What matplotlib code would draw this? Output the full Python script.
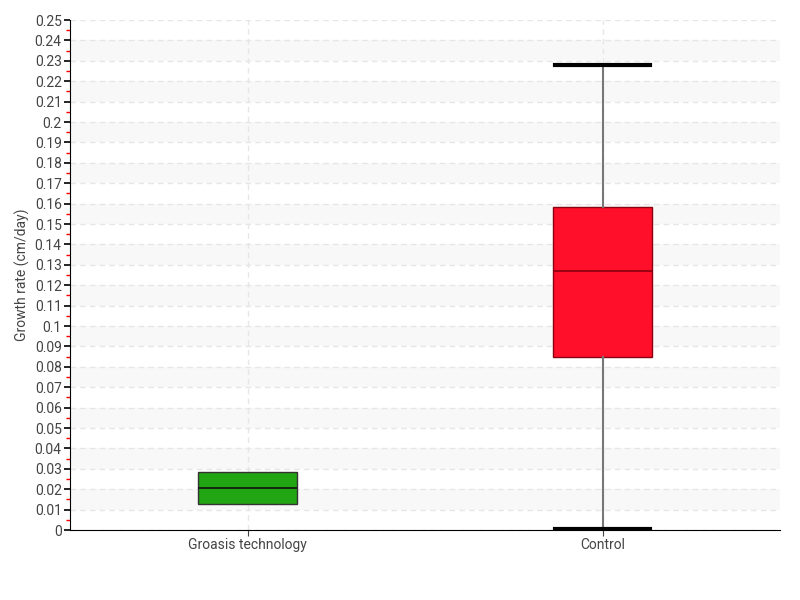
import numpy as np
import matplotlib.pyplot as plt
from matplotlib.ticker import MultipleLocator

# box statistics
groups = ["Groasis technology", "Control"]
q1 = [0.0127, 0.0848]
med = [0.0206, 0.127]
q3 = [0.0284, 0.1583]
whislo = [0.0127, 0.0005]
whishi = [0.0284, 0.228]
colors = ["#22a512", "#ff0f2a"]

plt.rcParams['font.family'] = ['Roboto', 'DejaVu Sans']

fig = plt.figure(figsize=(8, 6), dpi=100)
ax = fig.add_axes([70/800, 70/600, 710/800, 510/600])

# alternating bands
for k in range(1, 25, 2):
    ax.axhspan(k * 0.01, (k + 1) * 0.01, color="#f8f8f8", zorder=0, lw=0)

stats = []
for i in range(len(groups)):
    stats.append(dict(q1=q1[i], med=med[i], q3=q3[i], whislo=whislo[i],
                      whishi=whishi[i], fliers=[], label=groups[i]))

bp = ax.bxp(stats, positions=[0, 1], widths=0.28, capwidths=0.27,
            patch_artist=True, showfliers=False, zorder=3)
for i, box in enumerate(bp["boxes"]):
    box.set_facecolor(colors[i])
    box.set_edgecolor("#333333" if i == 0 else "#8a0010")
    box.set_linewidth(1)
for i, m in enumerate(bp["medians"]):
    m.set_color("#111111" if i == 0 else "#8a0010")
    m.set_linewidth(1.2)
for w in bp["whiskers"]:
    w.set_color("#777777")
    w.set_linewidth(1.5)
for c in bp["caps"]:
    c.set_color("black")
    c.set_linewidth(3)
# no whisker caps for the first group
for c in bp["caps"][:2]:
    c.set_visible(False)

ax.set_xlim(-0.5, 1.5)
ax.set_ylim(0, 0.25)
ax.yaxis.set_major_locator(MultipleLocator(0.01))
ax.yaxis.set_minor_locator(MultipleLocator(0.005))
ax.set_yticklabels([("%g" % round(v, 2)) for v in ax.get_yticks()])
ax.set_xticks([0, 1])
ax.set_xticklabels(groups)

ax.grid(True, axis="y", which="major", ls=(0, (4, 3)), color="#e6e6e6", lw=1, zorder=1)
ax.grid(True, axis="x", which="major", ls=(0, (4, 3)), color="#e6e6e6", lw=1, zorder=1)

for s in ["top", "right"]:
    ax.spines[s].set_visible(False)
ax.spines["left"].set_color("black")
ax.spines["bottom"].set_color("black")

ax.tick_params(axis="y", which="major", length=4, width=1.2, color="black",
               labelsize=10, labelcolor="#444444", pad=2)
ax.tick_params(axis="y", which="minor", length=3, width=1, color="red")
ax.tick_params(axis="x", which="major", length=4, color="#444444", labelsize=10,
               labelcolor="#444444", pad=2)
ax.set_ylabel("Growth rate (cm/day)", fontsize=10, color="#444444")
ax.yaxis.set_label_coords(-0.056, 0.5)

fig.savefig("out.png", dpi=100)
